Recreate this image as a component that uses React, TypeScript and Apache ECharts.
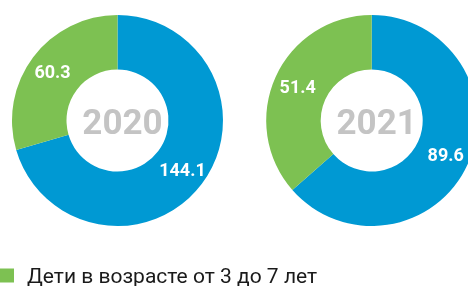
import React, { useEffect, useRef } from "react";
import * as echarts from "echarts";

const years = ["2020", "2021"];
const categories = ["Дети в возрасте до 3 лет", "Дети в возрасте от 3 до 7 лет"];
const under3 = [144.1, 89.6];
const from3to7 = [60.3, 51.4];
const colors = ["#0099d3", "#7dc152"];

export default function App() {
  const ref = useRef<HTMLDivElement>(null);
  useEffect(() => {
    if (!ref.current) return;
    const chart = echarts.init(ref.current, null, { renderer: "svg" });
    const centers = [
      [117.5, 120.5],
      [371.7, 120.5],
    ];
    chart.setOption({
      animation: false,
      color: colors,
      title: years.map((y, i) => ({
        text: y,
        left: centers[i][0],
        top: centers[i][1] - 21,
        textAlign: "center",
        textStyle: {
          fontFamily: "Roboto",
          fontWeight: "bold",
          fontSize: 35,
          color: "#c4c4c4",
        },
      })),
      legend: {
        data: [categories[1]],
        left: 0,
        top: 265,
        icon: "rect",
        itemWidth: 14,
        itemHeight: 14,
        padding: 0,
        textStyle: {
          fontFamily: "Roboto",
          fontSize: 21,
          lineHeight: 20,
          color: "#1a1a1a",
          padding: [0, 0, 0, 8],
        },
      },
      series: years.map((y, i) => ({
        type: "pie",
        name: y,
        center: centers[i],
        radius: [51, 105.5],
        startAngle: 90,
        clockwise: true,
        silent: true,
        itemStyle: { borderWidth: 0 },
        label: {
          show: true,
          position: "inside",
          formatter: (p: any) => p.value.toFixed(1),
          fontFamily: "Roboto",
          fontWeight: "bold",
          fontSize: 18,
          color: "#ffffff",
        },
        labelLine: { show: false },
        data: [
          { name: categories[0], value: under3[i] },
          { name: categories[1], value: from3to7[i] },
        ],
      })),
    });
    return () => chart.dispose();
  }, []);
  return (
    <div
      ref={ref}
      style={{ position: "fixed", left: 0, top: 0, width: 468, height: 286 }}
    />
  );
}
